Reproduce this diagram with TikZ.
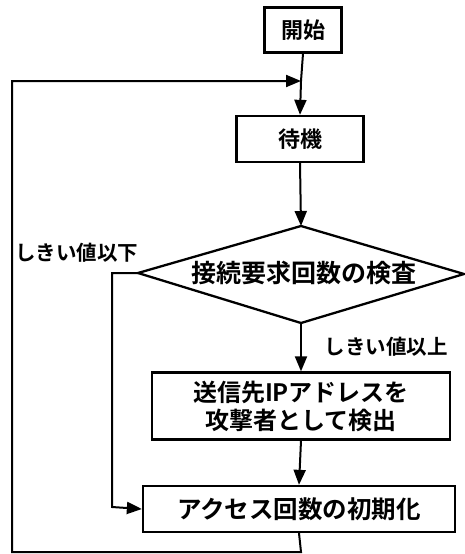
\documentclass[tikz,border=0pt]{standalone}
\usepackage{fontspec}
\newfontfamily\jp{Noto Sans CJK JP Bold}
\usetikzlibrary{arrows.meta}
\begin{document}
\begin{tikzpicture}[x=1pt,y=-1pt,
  line width=2pt,
  box/.style={draw,line width=2.3pt,inner sep=0pt,font=\jp\fontsize{22}{26}\selectfont,align=center},
  lbl/.style={font=\jp\fontsize{20.5}{24}\selectfont,inner sep=0pt},
  arr/.style={-{Triangle[length=15pt,width=12pt]}}]
\useasboundingbox (0,0) rectangle (465,554);
\fill[white] (0,0) rectangle (465,554);
\node[box,minimum width=77pt,minimum height=45pt] (start) at (303,30) {開始};
\node[box,minimum width=127pt,minimum height=46pt] (wait) at (300,139) {待機};
\coordinate (dt) at (301,226);
\coordinate (dl) at (138,273);
\coordinate (dr) at (464,274);
\coordinate (db) at (301,323);
\draw[line width=2.3pt] (dt) -- (dr) -- (db) -- (dl) -- cycle;
\node[font=\jp\fontsize{25}{28}\selectfont,inner sep=0pt] (check) at (304,273) {接続要求回数の検査};
\node[box,minimum width=298pt,minimum height=67pt,font=\jp\fontsize{24}{28}\selectfont] (detect) at (301,406) {送信先IPアドレスを\\攻撃者として検出};
\node[box,minimum width=312pt,minimum height=46pt,font=\jp\fontsize{24.5}{28}\selectfont] (init) at (299,509) {アクセス回数の初期化};
\node[lbl] (below) at (77,253) {しきい値以下};
\node[lbl] (above) at (386,347) {しきい値以上};
\coordinate (merge) at (301,81);
\coordinate (lt) at (12,81);
\coordinate (lb) at (12,552);
\coordinate (ib) at (301,552);
\draw (start.south) -- (merge);
\draw[arr] (merge) -- (wait.north);
\draw[arr] (wait.south) -- (dt);
\draw[arr] (db) -- (detect.north);
\draw[arr] (detect.south) -- (init.north);
\draw[arr] (dl) -- (112,273) -- (112,507) -- (init.west);
\draw[arr] (init.south) -- (ib) -- (lb) -- (lt) -- (merge);
\end{tikzpicture}
\end{document}
